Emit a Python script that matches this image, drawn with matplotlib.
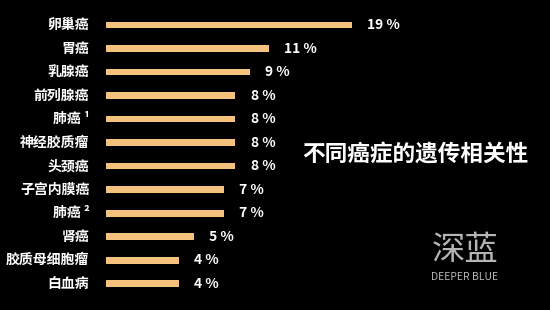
import matplotlib
matplotlib.use("Agg")
import matplotlib.pyplot as plt

plt.rcParams['font.family'] = ['Noto Sans CJK SC', 'DejaVu Sans']

# data
cancer = ["卵巢癌", "胃癌", "乳腺癌", "前列腺癌", "肺癌 ¹", "神经胶质瘤",
          "头颈癌", "子宫内膜癌", "肺癌 ²", "肾癌", "胶质母细胞瘤", "白血病"]
pct_label = [19, 11, 9, 8, 8, 8, 8, 7, 7, 5, 4, 4]
# drawn bar lengths (same unit as the 19 % bar, not quite proportional to labels)
bar_len = [19.0, 12.6, 11.1, 10.0, 10.0, 10.0, 10.0, 9.1, 9.1, 6.8, 5.6, 5.6]
title = "不同癌症的遗传相关性"

bg = "#000000"
bar_color = "#F5C27D"

fig = plt.figure(figsize=(5.5, 3.1), dpi=100, facecolor=bg)
ax = fig.add_axes([106 / 550, 0, 444 / 550, 1])
ax.set_facecolor(bg)

ypos = list(range(len(cancer)))
ax.barh(ypos, bar_len, height=0.285, color=bar_color, left=0)

ax.set_xlim(0, 444 / 12.947)
ax.set_ylim(12.117, -1.063)

for y, name, L, p in zip(ypos, cancer, bar_len, pct_label):
    ax.annotate(name, xy=(0, y), xytext=(-12, 0), textcoords="offset points",
                ha="right", va="center", color="white", fontsize=10,
                fontweight="bold")
    ax.annotate(f"{p} %", xy=(L, y), xytext=(11, 0), textcoords="offset points",
                ha="left", va="center", color="white", fontsize=10,
                fontweight="bold")

for s in ax.spines.values():
    s.set_visible(False)
ax.set_xticks([])
ax.set_yticks([])

fig.text(415 / 550, 1 - 155 / 310, title, ha="center", va="center",
         color="white", fontsize=16.3, fontweight="bold")

# watermark
fig.text(465 / 550, 1 - 250 / 310, "深蓝", ha="center", va="center",
         color="#b5b5b5", fontsize=24, fontweight="light")
fig.text(465 / 550, 1 - 277 / 310, "DEEPER BLUE", ha="center", va="center",
         color="#b5b5b5", fontsize=7.5, fontweight="light")

fig.savefig("out.png", dpi=100, facecolor=bg)
